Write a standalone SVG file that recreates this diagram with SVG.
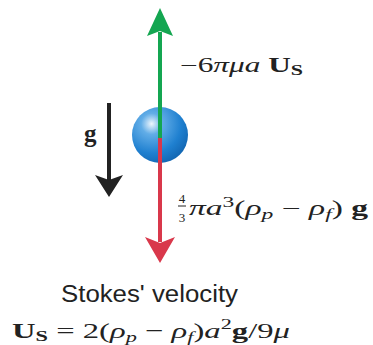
<svg xmlns="http://www.w3.org/2000/svg" width="373" height="345" viewBox="0 0 373 345">
<defs>
<radialGradient id="ball" cx="0.35" cy="0.3" r="0.75">
<stop offset="0" stop-color="#eef6fd"/>
<stop offset="0.25" stop-color="#62ade7"/>
<stop offset="0.7" stop-color="#1f80d0"/>
<stop offset="1" stop-color="#1266b2"/>
</radialGradient>
</defs>
<style>
.m{font-family:"Liberation Serif","DejaVu Serif",serif;fill:#222}
.i{font-style:italic}
.b{font-weight:bold}
.s{font-family:"Liberation Sans","DejaVu Sans",sans-serif;font-size:23px;fill:#222}
</style>
<rect width="373" height="345" fill="#fff"/>
<g id="sphere">
<circle cx="160" cy="135" r="28" fill="url(#ball)"/>
</g>
<g id="connectors">
<line x1="160" y1="32" x2="160" y2="138" stroke="#14a651" stroke-width="4"/>
<path d="M160,8 L173,36 L160,31 L147,36 Z" fill="#14a651"/>
<line x1="160" y1="138" x2="160" y2="242" stroke="#d9384b" stroke-width="4"/>
<path d="M160,263 L175,237 L160,243 L145,237 Z" fill="#d9384b"/>
<line x1="109" y1="103" x2="109" y2="180" stroke="#222" stroke-width="4"/>
<path d="M109,197 L123,175 L109,180 L95,175 Z" fill="#222"/>
</g>
<g id="label-g"><text class="m b" x="84" y="142" font-size="25">g</text></g>
<g id="label-drag">
<text class="m" x="180" y="72" font-size="20" textLength="123" lengthAdjust="spacingAndGlyphs">−6<tspan class="i">πμa</tspan> <tspan class="b">U</tspan><tspan class="b" font-size="14" dy="3">S</tspan></text>
</g>
<g id="label-buoy">
<text class="m" x="182" y="203" font-size="13" text-anchor="middle">4</text>
<line x1="178" y1="206" x2="186" y2="206" stroke="#222" stroke-width="1"/>
<text class="m" x="182" y="222" font-size="13" text-anchor="middle">3</text>
<text class="m" x="189" y="215" font-size="20" textLength="179" lengthAdjust="spacingAndGlyphs"><tspan class="i">πa</tspan><tspan font-size="14" dy="-8">3</tspan><tspan dy="8">(</tspan><tspan class="i">ρ</tspan><tspan class="i" font-size="14" dy="4">p</tspan><tspan dy="-4"> − </tspan><tspan class="i">ρ</tspan><tspan class="i" font-size="14" dy="4">f</tspan><tspan dy="-4">) </tspan><tspan class="b">g</tspan></text>
</g>
<g id="label-stokes">
<text class="s" x="61" y="302" textLength="177" lengthAdjust="spacingAndGlyphs">Stokes' velocity</text>
<text class="m" x="12" y="338" font-size="22" textLength="278" lengthAdjust="spacingAndGlyphs"><tspan class="b">U</tspan><tspan class="b" font-size="15" dy="3">S</tspan><tspan dy="-3"> = 2(</tspan><tspan class="i">ρ</tspan><tspan class="i" font-size="15" dy="4">p</tspan><tspan dy="-4"> − </tspan><tspan class="i">ρ</tspan><tspan class="i" font-size="15" dy="4">f</tspan><tspan dy="-4">)</tspan><tspan class="i">a</tspan><tspan font-size="15" dy="-9">2</tspan><tspan class="b" dy="9">g</tspan><tspan>/9</tspan><tspan class="i">μ</tspan></text>
</g>
</svg>
